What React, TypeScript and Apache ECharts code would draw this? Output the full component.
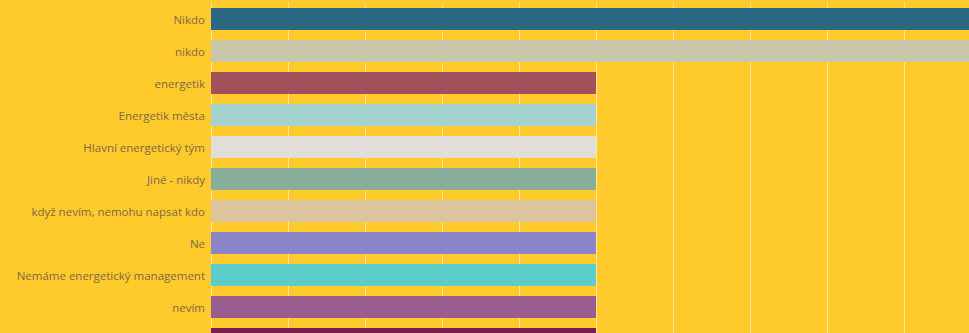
import React, { useEffect, useRef } from "react";
import * as echarts from "echarts";

const categories = [
  "Nikdo",
  "nikdo",
  "energetik",
  "Energetik města",
  "Hlavní energetický tým",
  "Jiné - nikdy",
  "když nevím, nemohu napsat kdo",
  "Ne",
  "Nemáme energetický management",
  "nevím",
  "",
];
const values = [2, 2, 1, 1, 1, 1, 1, 1, 1, 1, 1];
const barColors = [
  "#2b6683",
  "#c9c6a9",
  "#a2505b",
  "#a4d2cf",
  "#e1ddd9",
  "#89ad9b",
  "#dcc59d",
  "#8a84c9",
  "#5ccdc8",
  "#9a5e8e",
  "#7b1f52",
];

export default function App() {
  const ref = useRef<HTMLDivElement>(null);
  useEffect(() => {
    if (!ref.current) return;
    const chart = echarts.init(ref.current, undefined, { renderer: "svg" });
    chart.setOption({
      animation: false,
      backgroundColor: "#ffca2c",
      grid: { left: 211, top: 3, width: 770, height: 352 },
      xAxis: {
        type: "value",
        min: 0,
        max: 2,
        interval: 0.2,
        axisLabel: { show: false },
        axisLine: { show: false },
        axisTick: { show: false },
        splitLine: { show: true, lineStyle: { color: "rgba(255,255,255,0.55)", width: 1 } },
      },
      yAxis: {
        type: "category",
        inverse: true,
        data: categories,
        axisLine: { show: false },
        axisTick: { show: false },
        axisLabel: {
          margin: 6,
          color: "#7a6b45",
          fontFamily: "Open Sans",
          fontSize: 11.5,
        },
      },
      series: [
        {
          type: "bar",
          barWidth: 22,
          data: values.map((v, i) => ({ value: v, itemStyle: { color: barColors[i] } })),
        },
      ],
    });
    return () => chart.dispose();
  }, []);
  return (
    <div style={{ position: "fixed", left: 0, top: 0, width: 969, height: 333, overflow: "hidden" }}>
      <div ref={ref} style={{ width: 1000, height: 370 }} />
    </div>
  );
}
